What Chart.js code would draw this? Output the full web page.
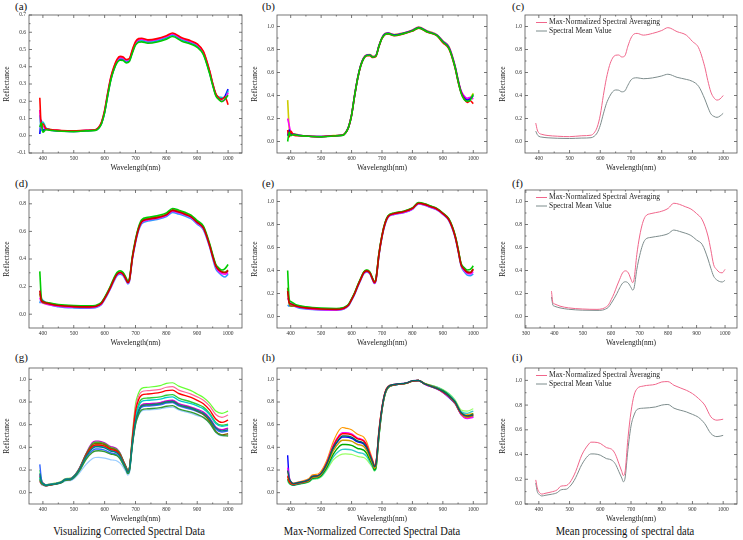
<!DOCTYPE html>
<html>
<head>
<meta charset="utf-8">
<script src="https://cdn.jsdelivr.net/npm/chart.js@4.4.0/dist/chart.umd.min.js"></script>
<style>
  body { margin: 0; background: #fff; width: 743px; height: 540px; position: relative; overflow: hidden;
         font-family: "Liberation Serif", "Times New Roman", serif; }
  canvas { position: absolute; }
  .lbl { position: absolute; font-size: 11px; line-height: 12px; color: #111; }
  .cap { position: absolute; font-size: 13.5px; line-height: 15px; color: #111; white-space: nowrap;
         transform: translateX(-50%) scaleX(0.78); }
</style>
</head>
<body>
<div class="lbl" style="left:15px;top:0px">(a)</div>
<div class="lbl" style="left:262px;top:0px">(b)</div>
<div class="lbl" style="left:512px;top:0px">(c)</div>
<div class="lbl" style="left:15px;top:177px">(d)</div>
<div class="lbl" style="left:262px;top:177px">(e)</div>
<div class="lbl" style="left:512px;top:177px">(f)</div>
<div class="lbl" style="left:15px;top:351px">(g)</div>
<div class="lbl" style="left:262px;top:351px">(h)</div>
<div class="lbl" style="left:512px;top:351px">(i)</div>
<div class="cap" style="left:129px;top:523px">Visualizing Corrected Spectral Data</div>
<div class="cap" style="left:372px;top:523px">Max-Normalized Corrected Spectral Data</div>
<div class="cap" style="left:625px;top:523px">Mean processing of spectral data</div>

<script>
// ---- wavelengths (nm), one list per row ----
const W1 = [390, 395, 400, 410, 430, 460, 500, 540, 570, 580, 590, 600, 610, 620, 630, 640, 650, 660, 670, 680,
            690, 700, 710, 720, 740, 770, 800, 820, 850, 880, 900, 920, 940, 950, 960, 970, 980, 990, 1000];
const W2 = [390, 395, 400, 420, 450, 500, 550, 570, 580, 590, 600, 610, 620, 630, 640, 650, 660, 670, 675, 680,
            690, 700, 710, 720, 740, 770, 800, 820, 840, 860, 880, 900, 920, 940, 950, 960, 970, 980, 990, 1000];
const W3 = [390, 395, 400, 410, 420, 440, 460, 470, 480, 490, 500, 510, 520, 540, 560, 570, 580, 600, 620, 630,
            640, 650, 660, 670, 675, 680, 690, 700, 710, 720, 740, 780, 800, 820, 840, 880, 900, 920, 940, 960, 980, 1000];

// ---- row 1: corrected spectra (a) ----
const meanA = [0.09, 0.06, 0.045, 0.038, 0.032, 0.028, 0.026, 0.03, 0.033, 0.045, 0.075, 0.14, 0.24, 0.33, 0.39, 0.432, 0.448, 0.446, 0.432, 0.44,
               0.49, 0.535, 0.552, 0.554, 0.546, 0.553, 0.57, 0.585, 0.558, 0.54, 0.523, 0.48, 0.37, 0.3, 0.24, 0.218, 0.21, 0.222, 0.245];
const a1 = [0.22, 0.05, 0.07, 0.04, 0.035, 0.03, 0.028, 0.032, 0.035, 0.048, 0.08, 0.148, 0.25, 0.34, 0.4, 0.443, 0.46, 0.457, 0.442, 0.448,
            0.5, 0.546, 0.563, 0.565, 0.556, 0.563, 0.58, 0.596, 0.568, 0.55, 0.532, 0.49, 0.378, 0.305, 0.245, 0.22, 0.212, 0.225, 0.18];
const a2 = [0.01, 0.09, 0.03, 0.042, 0.03, 0.027, 0.025, 0.029, 0.032, 0.043, 0.072, 0.136, 0.236, 0.326, 0.386, 0.428, 0.444, 0.442, 0.428, 0.436,
            0.486, 0.532, 0.55, 0.552, 0.544, 0.551, 0.568, 0.584, 0.556, 0.538, 0.52, 0.476, 0.366, 0.298, 0.24, 0.22, 0.215, 0.23, 0.27];
const a3 = [0.15, 0.04, 0.055, 0.036, 0.034, 0.029, 0.027, 0.031, 0.034, 0.046, 0.077, 0.143, 0.244, 0.335, 0.394, 0.437, 0.453, 0.451, 0.437, 0.444,
            0.494, 0.54, 0.557, 0.559, 0.551, 0.558, 0.575, 0.59, 0.563, 0.545, 0.528, 0.485, 0.374, 0.302, 0.236, 0.212, 0.2, 0.21, 0.25];
const a4 = [0.05, 0.075, 0.02, 0.035, 0.03, 0.026, 0.024, 0.028, 0.031, 0.042, 0.07, 0.134, 0.232, 0.322, 0.382, 0.423, 0.438, 0.436, 0.422, 0.43,
            0.48, 0.525, 0.542, 0.544, 0.536, 0.543, 0.56, 0.575, 0.548, 0.53, 0.512, 0.47, 0.36, 0.292, 0.232, 0.21, 0.198, 0.212, 0.235];
const a5 = [0.12, 0.03, 0.08, 0.045, 0.033, 0.028, 0.026, 0.03, 0.033, 0.044, 0.074, 0.14, 0.24, 0.33, 0.39, 0.432, 0.448, 0.446, 0.432, 0.44,
            0.49, 0.535, 0.552, 0.554, 0.546, 0.553, 0.57, 0.585, 0.558, 0.54, 0.523, 0.48, 0.37, 0.3, 0.24, 0.225, 0.222, 0.218, 0.26];

// ---- row 1: max-normalized (b) ----
const meanB = [0.16, 0.1, 0.075, 0.062, 0.052, 0.046, 0.042, 0.05, 0.055, 0.075, 0.125, 0.23, 0.4, 0.55, 0.66, 0.725, 0.75, 0.752, 0.735, 0.745,
               0.83, 0.9, 0.935, 0.94, 0.925, 0.94, 0.965, 0.99, 0.955, 0.925, 0.87, 0.815, 0.65, 0.53, 0.43, 0.38, 0.36, 0.37, 0.4];
const b1 = [0.1, 0.04, 0.09, 0.055, 0.05, 0.045, 0.041, 0.049, 0.054, 0.073, 0.122, 0.226, 0.396, 0.546, 0.656, 0.72, 0.745, 0.747, 0.73, 0.74,
            0.826, 0.896, 0.93, 0.936, 0.92, 0.936, 0.96, 0.986, 0.95, 0.92, 0.86, 0.805, 0.64, 0.52, 0.425, 0.37, 0.34, 0.355, 0.33];
const b2 = [0.36, 0.12, 0.06, 0.068, 0.055, 0.047, 0.043, 0.051, 0.056, 0.077, 0.128, 0.234, 0.404, 0.554, 0.664, 0.73, 0.755, 0.757, 0.74, 0.75,
            0.834, 0.904, 0.94, 0.945, 0.93, 0.944, 0.97, 0.995, 0.96, 0.93, 0.875, 0.825, 0.66, 0.54, 0.435, 0.39, 0.37, 0.38, 0.42];
const b3 = [0.0, 0.08, 0.05, 0.06, 0.051, 0.045, 0.04, 0.048, 0.053, 0.074, 0.124, 0.228, 0.398, 0.548, 0.658, 0.722, 0.748, 0.75, 0.733, 0.743,
            0.828, 0.898, 0.932, 0.938, 0.922, 0.938, 0.962, 0.988, 0.952, 0.922, 0.865, 0.81, 0.645, 0.525, 0.42, 0.365, 0.35, 0.36, 0.41];
const b4 = [0.2, 0.14, 0.08, 0.064, 0.053, 0.046, 0.042, 0.05, 0.055, 0.076, 0.126, 0.232, 0.402, 0.552, 0.662, 0.728, 0.752, 0.754, 0.737, 0.747,
            0.832, 0.902, 0.937, 0.942, 0.927, 0.942, 0.967, 0.992, 0.957, 0.927, 0.872, 0.82, 0.655, 0.535, 0.44, 0.395, 0.375, 0.385, 0.37];
const b5 = [0.05, 0.1, 0.07, 0.062, 0.052, 0.046, 0.042, 0.05, 0.055, 0.075, 0.125, 0.23, 0.4, 0.55, 0.66, 0.725, 0.75, 0.752, 0.735, 0.745,
            0.83, 0.9, 0.935, 0.94, 0.925, 0.94, 0.965, 0.99, 0.955, 0.925, 0.87, 0.815, 0.65, 0.53, 0.43, 0.38, 0.36, 0.37, 0.4];

// ---- row 2: corrected (d) ----
const meanD = [0.17, 0.1, 0.09, 0.075, 0.063, 0.055, 0.053, 0.056, 0.065, 0.08, 0.115, 0.155, 0.2, 0.25, 0.29, 0.302, 0.29, 0.25, 0.23, 0.245,
               0.41, 0.53, 0.62, 0.67, 0.688, 0.7, 0.72, 0.752, 0.74, 0.725, 0.705, 0.665, 0.625, 0.5, 0.42, 0.35, 0.32, 0.305, 0.3, 0.315];
const d1 = [0.12, 0.09, 0.08, 0.068, 0.058, 0.05, 0.048, 0.051, 0.06, 0.075, 0.11, 0.15, 0.195, 0.245, 0.285, 0.297, 0.285, 0.245, 0.226, 0.24,
            0.405, 0.525, 0.615, 0.665, 0.683, 0.695, 0.715, 0.747, 0.735, 0.72, 0.7, 0.66, 0.62, 0.495, 0.415, 0.345, 0.31, 0.295, 0.29, 0.3];
const d2 = [0.08, 0.11, 0.1, 0.07, 0.055, 0.046, 0.044, 0.047, 0.056, 0.071, 0.105, 0.145, 0.19, 0.238, 0.278, 0.29, 0.278, 0.24, 0.22, 0.235,
            0.4, 0.518, 0.606, 0.656, 0.675, 0.687, 0.707, 0.738, 0.726, 0.712, 0.692, 0.652, 0.612, 0.488, 0.405, 0.33, 0.3, 0.28, 0.27, 0.29];
const d3 = [0.31, 0.12, 0.095, 0.082, 0.07, 0.062, 0.06, 0.063, 0.072, 0.087, 0.122, 0.163, 0.21, 0.262, 0.302, 0.315, 0.302, 0.262, 0.24, 0.255,
            0.42, 0.542, 0.632, 0.684, 0.702, 0.714, 0.734, 0.766, 0.754, 0.738, 0.718, 0.678, 0.638, 0.512, 0.432, 0.362, 0.335, 0.32, 0.33, 0.36];
const d4 = [0.15, 0.1, 0.085, 0.077, 0.065, 0.057, 0.055, 0.058, 0.067, 0.082, 0.117, 0.157, 0.203, 0.253, 0.293, 0.306, 0.294, 0.253, 0.233, 0.248,
            0.413, 0.534, 0.624, 0.674, 0.693, 0.705, 0.725, 0.757, 0.745, 0.73, 0.71, 0.67, 0.63, 0.505, 0.425, 0.355, 0.325, 0.31, 0.305, 0.32];

// ---- row 2: max-normalized (e) ----
const meanE = [0.22, 0.12, 0.11, 0.09, 0.075, 0.065, 0.062, 0.068, 0.08, 0.1, 0.147, 0.2, 0.265, 0.325, 0.38, 0.397, 0.38, 0.32, 0.295, 0.32,
               0.54, 0.7, 0.81, 0.87, 0.895, 0.91, 0.94, 0.985, 0.975, 0.955, 0.935, 0.895, 0.84, 0.7, 0.58, 0.45, 0.41, 0.385, 0.38, 0.41];
const e1 = [0.16, 0.13, 0.1, 0.085, 0.07, 0.06, 0.058, 0.064, 0.076, 0.096, 0.143, 0.196, 0.26, 0.32, 0.375, 0.392, 0.375, 0.315, 0.29, 0.315,
            0.535, 0.695, 0.805, 0.865, 0.89, 0.905, 0.935, 0.98, 0.97, 0.95, 0.93, 0.89, 0.835, 0.695, 0.575, 0.445, 0.4, 0.375, 0.37, 0.39];
const e2 = [0.1, 0.09, 0.12, 0.08, 0.066, 0.057, 0.055, 0.061, 0.073, 0.093, 0.14, 0.193, 0.257, 0.317, 0.371, 0.388, 0.371, 0.312, 0.287, 0.312,
            0.53, 0.69, 0.8, 0.862, 0.888, 0.903, 0.933, 0.978, 0.968, 0.948, 0.928, 0.888, 0.832, 0.69, 0.57, 0.44, 0.39, 0.36, 0.355, 0.37];
const e3 = [0.4, 0.15, 0.13, 0.1, 0.085, 0.074, 0.07, 0.075, 0.086, 0.106, 0.153, 0.206, 0.272, 0.332, 0.388, 0.405, 0.388, 0.328, 0.302, 0.327,
            0.548, 0.708, 0.818, 0.877, 0.9, 0.915, 0.945, 0.99, 0.98, 0.96, 0.94, 0.9, 0.848, 0.708, 0.59, 0.46, 0.425, 0.405, 0.41, 0.44];
const e4 = [0.25, 0.11, 0.09, 0.092, 0.078, 0.068, 0.065, 0.071, 0.083, 0.103, 0.15, 0.203, 0.268, 0.328, 0.384, 0.401, 0.384, 0.324, 0.298, 0.323,
            0.544, 0.704, 0.814, 0.874, 0.898, 0.913, 0.943, 0.988, 0.978, 0.958, 0.938, 0.898, 0.844, 0.704, 0.585, 0.455, 0.415, 0.39, 0.385, 0.415];

// ---- row 3: corrected (g) ----
const meanG = [0.17, 0.1, 0.08, 0.065, 0.07, 0.078, 0.092, 0.112, 0.118, 0.12, 0.14, 0.17, 0.213, 0.32, 0.39, 0.405, 0.405, 0.395, 0.367, 0.362,
               0.35, 0.32, 0.265, 0.21, 0.18, 0.2, 0.44, 0.63, 0.72, 0.765, 0.775, 0.785, 0.8, 0.805, 0.775, 0.745, 0.725, 0.7, 0.65, 0.57, 0.545, 0.555];
const g1 = [0.2, 0.12, 0.09, 0.07, 0.075, 0.085, 0.1, 0.12, 0.126, 0.128, 0.148, 0.18, 0.225, 0.335, 0.41, 0.425, 0.425, 0.415, 0.385, 0.38,
            0.367, 0.336, 0.278, 0.22, 0.19, 0.212, 0.52, 0.78, 0.88, 0.92, 0.93, 0.945, 0.965, 0.97, 0.94, 0.9, 0.87, 0.84, 0.79, 0.72, 0.7, 0.72];
const g2 = [0.1, 0.08, 0.07, 0.06, 0.066, 0.075, 0.09, 0.11, 0.116, 0.118, 0.138, 0.17, 0.215, 0.33, 0.405, 0.42, 0.42, 0.41, 0.38, 0.375,
            0.362, 0.33, 0.272, 0.215, 0.185, 0.205, 0.48, 0.72, 0.82, 0.86, 0.87, 0.885, 0.9, 0.905, 0.875, 0.84, 0.815, 0.785, 0.73, 0.65, 0.62, 0.64];
const g3 = [0.25, 0.12, 0.075, 0.062, 0.068, 0.076, 0.09, 0.108, 0.114, 0.116, 0.135, 0.165, 0.205, 0.31, 0.37, 0.385, 0.385, 0.375, 0.35, 0.345,
            0.335, 0.305, 0.255, 0.2, 0.17, 0.19, 0.43, 0.62, 0.71, 0.755, 0.765, 0.775, 0.79, 0.795, 0.765, 0.735, 0.715, 0.69, 0.64, 0.56, 0.535, 0.545];
const g4 = [0.15, 0.1, 0.085, 0.068, 0.072, 0.08, 0.095, 0.116, 0.122, 0.124, 0.145, 0.178, 0.225, 0.345, 0.44, 0.455, 0.455, 0.44, 0.405, 0.4,
            0.385, 0.35, 0.285, 0.222, 0.19, 0.21, 0.45, 0.64, 0.73, 0.775, 0.785, 0.795, 0.81, 0.815, 0.785, 0.755, 0.735, 0.71, 0.66, 0.58, 0.555, 0.57];
const g5 = [0.12, 0.09, 0.078, 0.064, 0.069, 0.077, 0.09, 0.11, 0.115, 0.118, 0.14, 0.172, 0.218, 0.335, 0.42, 0.435, 0.435, 0.425, 0.39, 0.385,
            0.37, 0.338, 0.28, 0.222, 0.19, 0.21, 0.44, 0.63, 0.72, 0.765, 0.775, 0.785, 0.8, 0.805, 0.775, 0.745, 0.72, 0.69, 0.63, 0.54, 0.51, 0.52];
const g6 = [0.1, 0.07, 0.065, 0.058, 0.064, 0.072, 0.085, 0.1, 0.105, 0.107, 0.12, 0.148, 0.18, 0.25, 0.3, 0.31, 0.312, 0.305, 0.29, 0.287,
            0.28, 0.26, 0.225, 0.18, 0.155, 0.17, 0.42, 0.6, 0.68, 0.72, 0.73, 0.74, 0.75, 0.755, 0.73, 0.7, 0.68, 0.66, 0.61, 0.53, 0.5, 0.51];
const g7 = [0.13, 0.09, 0.08, 0.066, 0.071, 0.079, 0.093, 0.113, 0.12, 0.122, 0.142, 0.172, 0.215, 0.322, 0.395, 0.41, 0.41, 0.4, 0.372, 0.367,
            0.355, 0.324, 0.268, 0.212, 0.182, 0.202, 0.45, 0.66, 0.76, 0.805, 0.815, 0.825, 0.84, 0.845, 0.815, 0.785, 0.765, 0.74, 0.69, 0.61, 0.585, 0.595];
const g8 = [0.14, 0.095, 0.08, 0.066, 0.071, 0.079, 0.094, 0.114, 0.12, 0.122, 0.143, 0.176, 0.222, 0.34, 0.43, 0.445, 0.445, 0.432, 0.398, 0.392,
            0.378, 0.345, 0.284, 0.224, 0.192, 0.212, 0.47, 0.68, 0.78, 0.825, 0.835, 0.845, 0.86, 0.865, 0.835, 0.8, 0.78, 0.755, 0.7, 0.62, 0.595, 0.605];
const g9 = [0.11, 0.085, 0.072, 0.061, 0.067, 0.075, 0.088, 0.106, 0.112, 0.114, 0.132, 0.16, 0.198, 0.295, 0.355, 0.368, 0.37, 0.362, 0.34, 0.336,
            0.326, 0.298, 0.25, 0.198, 0.168, 0.186, 0.42, 0.6, 0.69, 0.73, 0.74, 0.75, 0.762, 0.768, 0.74, 0.71, 0.69, 0.665, 0.615, 0.535, 0.505, 0.5];
const g10 = [0.16, 0.11, 0.085, 0.068, 0.073, 0.082, 0.097, 0.118, 0.124, 0.126, 0.146, 0.178, 0.222, 0.33, 0.4, 0.415, 0.415, 0.405, 0.376, 0.371,
             0.359, 0.328, 0.272, 0.216, 0.186, 0.206, 0.5, 0.75, 0.85, 0.89, 0.9, 0.912, 0.93, 0.935, 0.905, 0.87, 0.845, 0.815, 0.765, 0.69, 0.665, 0.685];

// ---- row 3: max-normalized (h) ----
const meanH = [0.195, 0.13, 0.1, 0.08, 0.086, 0.097, 0.115, 0.142, 0.147, 0.15, 0.17, 0.21, 0.263, 0.397, 0.477, 0.5, 0.5, 0.49, 0.456, 0.45,
               0.437, 0.397, 0.33, 0.263, 0.23, 0.25, 0.53, 0.745, 0.88, 0.933, 0.954, 0.968, 0.987, 0.99, 0.96, 0.92, 0.893, 0.853, 0.8, 0.705, 0.678, 0.686];
const h1 = [0.2, 0.12, 0.1, 0.085, 0.092, 0.105, 0.125, 0.155, 0.16, 0.165, 0.19, 0.235, 0.295, 0.45, 0.555, 0.575, 0.57, 0.555, 0.515, 0.505,
            0.49, 0.445, 0.365, 0.285, 0.245, 0.265, 0.56, 0.76, 0.89, 0.94, 0.955, 0.965, 0.985, 0.99, 0.965, 0.93, 0.905, 0.865, 0.81, 0.715, 0.69, 0.7];
const h2 = [0.15, 0.1, 0.085, 0.075, 0.082, 0.094, 0.112, 0.14, 0.146, 0.15, 0.172, 0.215, 0.27, 0.41, 0.5, 0.52, 0.52, 0.51, 0.475, 0.468,
            0.455, 0.413, 0.342, 0.27, 0.235, 0.255, 0.54, 0.75, 0.885, 0.935, 0.952, 0.966, 0.985, 0.99, 0.96, 0.92, 0.89, 0.85, 0.795, 0.7, 0.675, 0.685];
const h3 = [0.33, 0.12, 0.08, 0.07, 0.078, 0.09, 0.108, 0.135, 0.14, 0.144, 0.165, 0.205, 0.26, 0.39, 0.47, 0.49, 0.49, 0.48, 0.448, 0.442,
            0.43, 0.39, 0.325, 0.26, 0.225, 0.245, 0.52, 0.74, 0.875, 0.93, 0.95, 0.966, 0.986, 0.99, 0.958, 0.915, 0.885, 0.84, 0.785, 0.69, 0.66, 0.67];
const h4 = [0.12, 0.09, 0.075, 0.068, 0.074, 0.085, 0.1, 0.125, 0.13, 0.133, 0.15, 0.185, 0.23, 0.34, 0.41, 0.425, 0.425, 0.418, 0.39, 0.385,
            0.375, 0.345, 0.29, 0.235, 0.2, 0.22, 0.5, 0.73, 0.87, 0.928, 0.95, 0.967, 0.985, 0.99, 0.962, 0.925, 0.9, 0.86, 0.8, 0.7, 0.675, 0.695];
const h5 = [0.1, 0.08, 0.07, 0.065, 0.07, 0.08, 0.094, 0.115, 0.12, 0.123, 0.138, 0.168, 0.205, 0.29, 0.33, 0.34, 0.342, 0.338, 0.32, 0.315,
            0.31, 0.29, 0.255, 0.215, 0.19, 0.205, 0.49, 0.725, 0.865, 0.925, 0.948, 0.965, 0.984, 0.99, 0.965, 0.935, 0.91, 0.875, 0.82, 0.73, 0.72, 0.74];
const h6 = [0.22, 0.14, 0.095, 0.08, 0.086, 0.097, 0.115, 0.143, 0.148, 0.152, 0.175, 0.218, 0.275, 0.42, 0.51, 0.53, 0.53, 0.518, 0.482, 0.475,
            0.46, 0.418, 0.345, 0.272, 0.236, 0.256, 0.535, 0.748, 0.882, 0.934, 0.954, 0.968, 0.987, 0.99, 0.958, 0.915, 0.885, 0.845, 0.79, 0.69, 0.655, 0.665];
const h7 = [0.14, 0.1, 0.08, 0.072, 0.079, 0.09, 0.107, 0.133, 0.138, 0.142, 0.162, 0.2, 0.25, 0.37, 0.445, 0.462, 0.462, 0.455, 0.425, 0.42,
            0.408, 0.372, 0.31, 0.25, 0.215, 0.235, 0.51, 0.735, 0.87, 0.928, 0.95, 0.965, 0.985, 0.99, 0.96, 0.918, 0.888, 0.848, 0.79, 0.695, 0.665, 0.68];
const h8 = [0.11, 0.085, 0.072, 0.066, 0.072, 0.082, 0.097, 0.12, 0.125, 0.128, 0.144, 0.176, 0.218, 0.315, 0.37, 0.382, 0.383, 0.378, 0.355, 0.35,
            0.342, 0.318, 0.272, 0.225, 0.195, 0.212, 0.495, 0.728, 0.868, 0.926, 0.949, 0.966, 0.985, 0.99, 0.963, 0.93, 0.905, 0.868, 0.81, 0.715, 0.7, 0.72];

// ---- tick values ----
const XT = [400, 500, 600, 700, 800, 900, 1000];
const XT_F = [300, 400, 500, 600, 700, 800, 900, 1000];
const YT_A = [-0.1, 0.0, 0.1, 0.2, 0.3, 0.4, 0.5, 0.6, 0.7];
const YT_D = [0.0, 0.2, 0.4, 0.6, 0.8];
const YT_N = [0.0, 0.2, 0.4, 0.6, 0.8, 1.0];

const LEG1 = 'Max-Normalized Spectral Averaging';
const LEG2 = 'Spectral Mean Value';
const PINK = '#f0668b';
const GRAY = '#7d8c8c';
const FONT = "'Liberation Serif', 'Times New Roman', serif";

// box with inward ticks on all four sides
const frame = {
  id: 'frame',
  afterDatasetsDraw(chart) {
    const { ctx, chartArea: a, scales: { x, y } } = chart;
    ctx.save();
    ctx.strokeStyle = '#555';
    ctx.lineWidth = 0.8;
    ctx.strokeRect(a.left, a.top, a.right - a.left, a.bottom - a.top);
    ctx.beginPath();
    const xv = x.ticks.map(t => t.value);
    xv.forEach((v, i) => {
      const p = x.getPixelForValue(v);
      ctx.moveTo(p, a.bottom); ctx.lineTo(p, a.bottom - 3);
      ctx.moveTo(p, a.top); ctx.lineTo(p, a.top + 3);
      if (i < xv.length - 1) {
        const m = x.getPixelForValue((v + xv[i + 1]) / 2);
        ctx.moveTo(m, a.bottom); ctx.lineTo(m, a.bottom - 1.5);
        ctx.moveTo(m, a.top); ctx.lineTo(m, a.top + 1.5);
      }
    });
    const yv = y.ticks.map(t => t.value);
    yv.forEach((v, i) => {
      const p = y.getPixelForValue(v);
      ctx.moveTo(a.left, p); ctx.lineTo(a.left + 3, p);
      ctx.moveTo(a.right, p); ctx.lineTo(a.right - 3, p);
      if (i < yv.length - 1) {
        const m = y.getPixelForValue((v + yv[i + 1]) / 2);
        ctx.moveTo(a.left, m); ctx.lineTo(a.left + 1.5, m);
        ctx.moveTo(a.right, m); ctx.lineTo(a.right - 1.5, m);
      }
    });
    ctx.stroke();
    ctx.restore();
  }
};

// legend drawn inside the plot, top-left
const inLegend = {
  id: 'inlegend',
  afterDraw(chart, args, opts) {
    if (!opts.show) return;
    const { ctx, chartArea: a } = chart;
    ctx.save();
    ctx.font = "7.5px " + FONT;
    ctx.textBaseline = 'middle';
    chart.data.datasets.forEach((d, i) => {
      const yy = a.top + 7.5 + i * 8.5;
      ctx.strokeStyle = d.borderColor;
      ctx.lineWidth = 1;
      ctx.beginPath();
      ctx.moveTo(a.left + 11, yy);
      ctx.lineTo(a.left + 22, yy);
      ctx.stroke();
      ctx.fillStyle = '#222';
      ctx.fillText(d.label, a.left + 24, yy);
    });
    ctx.restore();
  }
};

function pts(w, v) {
  return w.map((x, i) => ({ x: x, y: v[i] }));
}

function panel(box, xr, yr, sets, legend) {
  const cv = document.createElement('canvas');
  cv.width = box.R - box.L + 32;
  cv.height = box.B - box.T + 34;
  cv.style.left = (box.L - 28) + 'px';
  cv.style.top = (box.T - 12) + 'px';
  document.body.appendChild(cv);

  new Chart(cv, {
    type: 'line',
    data: {
      datasets: sets.map(s => ({
        label: s.label || '',
        data: pts(s.w, s.v),
        borderColor: s.c,
        borderWidth: s.bw || 1,
        pointRadius: 0,
        fill: false,
        cubicInterpolationMode: 'monotone'
      }))
    },
    options: {
      responsive: false,
      animation: false,
      devicePixelRatio: 1,
      layout: { padding: { left: 0, right: 4, top: 12, bottom: 0 } },
      plugins: { legend: { display: false }, tooltip: { enabled: false }, inlegend: { show: !!legend } },
      scales: {
        x: {
          type: 'linear', min: xr[0], max: xr[1],
          afterBuildTicks: s => { s.ticks = xr[2].map(v => ({ value: v })); },
          afterFit: s => { s.height = 22; },
          grid: { display: false, drawTicks: false },
          border: { display: false },
          ticks: { font: { family: FONT, size: 5.5 }, color: '#333', padding: 2, maxRotation: 0, autoSkip: false,
                   callback: v => String(v) },
          title: { display: true, text: 'Wavelength(nm)', font: { family: FONT, size: 7.5 }, color: '#222',
                   padding: { top: 0, bottom: 2 } }
        },
        y: {
          type: 'linear', min: yr[0], max: yr[1],
          afterBuildTicks: s => { s.ticks = yr[2].map(v => ({ value: v })); },
          afterFit: s => { s.width = 28; },
          grid: { display: false, drawTicks: false },
          border: { display: false },
          ticks: { font: { family: FONT, size: 5.5 }, color: '#333', padding: 3, autoSkip: false,
                   callback: v => Number(v).toFixed(1) },
          title: { display: true, text: 'Reflectance', font: { family: FONT, size: 7.5 }, color: '#222',
                   padding: { top: 2, bottom: 0 } }
        }
      }
    },
    plugins: [frame, inLegend]
  });
}

// plot-area rectangles (page pixels)
const COL = [{ L: 29, R: 242 }, { L: 277, R: 487 }, { L: 525, R: 737 }];
const ROW = [{ T: 15, B: 153 }, { T: 190, B: 328 }, { T: 368, B: 504 }];
const at = (c, r) => ({ L: COL[c].L, R: COL[c].R, T: ROW[r].T, B: ROW[r].B });

const XR = [355, 1045, XT];

// (a)
panel(at(0, 0), XR, [-0.1, 0.7, YT_A], [
  { w: W1, v: a4, c: '#00cc00', bw: 1.6 },
  { w: W1, v: a1, c: '#ff0000', bw: 1.6 },
  { w: W1, v: a3, c: '#ff00ff', bw: 1.6 },
  { w: W1, v: a5, c: '#00cccc', bw: 1.6 },
  { w: W1, v: a2, c: '#0000ff', bw: 1.6 }
]);
// (b)
panel(at(1, 0), XR, [-0.1, 1.1, YT_N], [
  { w: W1, v: b3, c: '#00cc00', bw: 1.6 },
  { w: W1, v: b1, c: '#ff0000', bw: 1.6 },
  { w: W1, v: b5, c: '#0000ff', bw: 1.6 },
  { w: W1, v: b4, c: '#ff00ff', bw: 1.6 },
  { w: W1, v: b2, c: '#cccc00', bw: 1.6 }
]);
// (c)
panel(at(2, 0), XR, [-0.1, 1.1, YT_N], [
  { w: W1, v: meanB, c: PINK, label: LEG1 },
  { w: W1, v: meanA, c: GRAY, label: LEG2 }
], true);

// (d)
panel(at(0, 1), XR, [-0.1, 0.9, YT_D], [
  { w: W2, v: meanD, c: '#cc0000', bw: 1.6 },
  { w: W2, v: d3, c: '#00cc00', bw: 1.6 },
  { w: W2, v: d4, c: '#808000', bw: 1.6 },
  { w: W2, v: d1, c: '#ff00ff', bw: 1.6 },
  { w: W2, v: d2, c: '#3399ff', bw: 1.6 }
]);
// (e)
panel(at(1, 1), XR, [-0.1, 1.1, YT_N], [
  { w: W2, v: meanE, c: '#cc0000', bw: 1.6 },
  { w: W2, v: e3, c: '#00cc00', bw: 1.6 },
  { w: W2, v: e4, c: '#808000', bw: 1.6 },
  { w: W2, v: e1, c: '#ff00ff', bw: 1.6 },
  { w: W2, v: e2, c: '#3399ff', bw: 1.6 }
]);
// (f)
panel(at(2, 1), [297, 1042, XT_F], [-0.1, 1.1, YT_N], [
  { w: W2, v: meanE, c: PINK, label: LEG1 },
  { w: W2, v: meanD, c: GRAY, label: LEG2 }
], true);

// (g)
panel(at(0, 2), XR, [-0.1, 1.1, YT_N], [
  { w: W3, v: meanG, c: '#008080', bw: 1.4 },
  { w: W3, v: g9, c: '#339933', bw: 1.4 },
  { w: W3, v: g2, c: '#ff0000', bw: 1.4 },
  { w: W3, v: g7, c: '#00cccc', bw: 1.4 },
  { w: W3, v: g5, c: '#806000', bw: 1.4 },
  { w: W3, v: g8, c: '#33cc33', bw: 1.4 },
  { w: W3, v: g4, c: '#cc00cc', bw: 1.4 },
  { w: W3, v: g3, c: '#3366ff', bw: 1.4 },
  { w: W3, v: g10, c: '#ff6699', bw: 1.2 },
  { w: W3, v: g1, c: '#66ff33', bw: 1.2 },
  { w: W3, v: g6, c: '#99ccff', bw: 1.2 }
]);
// (h)
panel(at(1, 2), XR, [-0.1, 1.1, YT_N], [
  { w: W3, v: meanH, c: '#006666', bw: 1.4 },
  { w: W3, v: h2, c: '#ff0000', bw: 1.4 },
  { w: W3, v: h7, c: '#cc9900', bw: 1.4 },
  { w: W3, v: h6, c: '#ff00ff', bw: 1.4 },
  { w: W3, v: h3, c: '#0000ff', bw: 1.4 },
  { w: W3, v: h4, c: '#00aa00', bw: 1.4 },
  { w: W3, v: h8, c: '#33cccc', bw: 1.4 },
  { w: W3, v: h1, c: '#ff9900', bw: 1.2 },
  { w: W3, v: h5, c: '#99ff66', bw: 1.2 }
]);
// (i)
panel(at(2, 2), XR, [0.0, 1.1, YT_N], [
  { w: W3, v: meanH, c: PINK, label: LEG1 },
  { w: W3, v: meanG, c: GRAY, label: LEG2 }
], true);
</script>
</body>
</html>
